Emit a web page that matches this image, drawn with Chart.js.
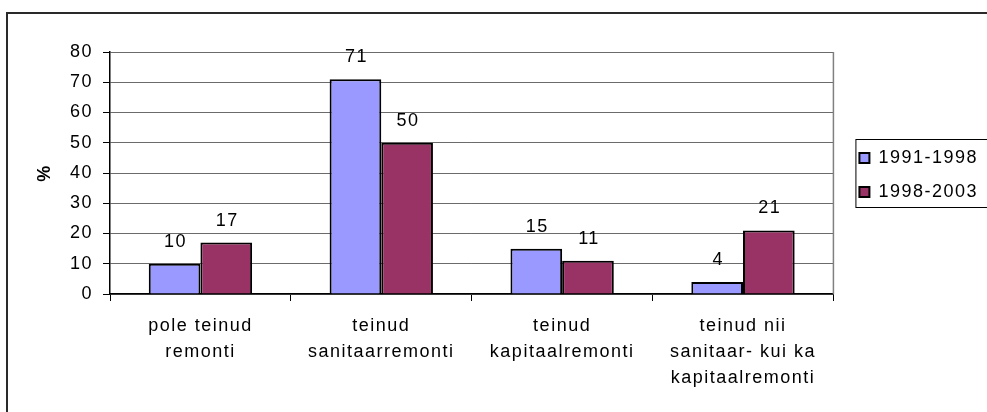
<!DOCTYPE html>
<html>
<head>
<meta charset="utf-8">
<script src="https://cdn.jsdelivr.net/npm/chart.js@4"></script>
<style>
    body { margin: 0; background: #fff; overflow: hidden; width: 987px; height: 412px; }
    #frame { position: absolute; left: 6px; top: 12px; width: 1100px; height: 500px; border: 2px solid #2a2a2a; }
    #wrap { position: absolute; left: 0; top: 0; width: 1000px; height: 420px; }
</style>
</head>
<body>
<div id="frame"></div>
<div id="wrap"><canvas id="remontChart"></canvas></div>
<script>
// Data
const categories = [
    ['pole teinud', 'remonti'],
    ['teinud', 'sanitaarremonti'],
    ['teinud', 'kapitaalremonti'],
    ['teinud nii', 'sanitaar- kui ka', 'kapitaalremonti']
];
const periods = ['1991-1998', '1998-2003'];
const values1991 = [10, 71, 15, 4];
const values1998 = [17, 50, 11, 21];
const yTicks = [0, 10, 20, 30, 40, 50, 60, 70, 80];

const FONT = 'Liberation Sans, Arial, sans-serif';
const SIZE = 18;

// letter spacing gets reset each time the canvas is resized, so set it again
const spacingPlugin = {
    id: 'spacing',
    beforeUpdate(chart) { chart.ctx.letterSpacing = '1.5px'; },
    beforeDraw(chart) { chart.ctx.letterSpacing = '1.5px'; }
};

// values above the bars
const valueLabels = {
    id: 'valueLabels',
    afterDatasetsDraw(chart) {
        const ctx = chart.ctx;
        ctx.save();
        ctx.font = SIZE + 'px ' + FONT;
        ctx.fillStyle = '#000';
        ctx.textAlign = 'center';
        ctx.textBaseline = 'alphabetic';
        chart.data.datasets.forEach((ds, i) => {
            chart.getDatasetMeta(i).data.forEach((bar, j) => {
                ctx.fillText(ds.data[j], bar.x + 1, bar.y - 17);
            });
        });
        ctx.restore();
    }
};

// grey right edge of the plot, legend placement and legend frame
const frameBits = {
    id: 'frameBits',
    afterLayout(chart) {
        const area = chart.chartArea;
        const lg = chart.legend;
        lg.left += 10;
        lg.right += 10;
        lg.top = area.top + 2;
        lg.bottom = area.bottom + 2;
    },
    afterDraw(chart) {
        const ctx = chart.ctx;
        const area = chart.chartArea;
        ctx.save();
        ctx.strokeStyle = '#808080';
        ctx.lineWidth = 1.5;
        ctx.beginPath();
        ctx.moveTo(area.right, area.top);
        ctx.lineTo(area.right, area.bottom);
        ctx.stroke();

        const mid = (area.top + area.bottom) / 2;
        ctx.strokeStyle = '#000';
        ctx.lineWidth = 1;
        ctx.strokeRect(chart.legend.left + 12.5, mid - 33.5, 200, 68);
        ctx.restore();
    }
};

function initChart() {
    const ctx = document.getElementById('remontChart').getContext('2d');

    new Chart(ctx, {
        type: 'bar',
        data: {
            labels: categories,
            datasets: [{
                label: periods[0],
                data: values1991,
                backgroundColor: '#9999FF',
                borderColor: '#000',
                borderWidth: 2,
                categoryPercentage: 2 / 3.5,
                barPercentage: 1
            }, {
                label: periods[1],
                data: values1998,
                backgroundColor: '#993366',
                borderColor: '#000',
                borderWidth: 2,
                categoryPercentage: 2 / 3.5,
                barPercentage: 1
            }]
        },
        options: {
            responsive: true,
            maintainAspectRatio: false,
            animation: false,
            layout: { padding: { left: 0, top: 52, right: 22, bottom: 6 } },
            plugins: {
                tooltip: { enabled: false },
                legend: {
                    position: 'right',
                    labels: {
                        color: '#000',
                        font: { family: FONT, size: SIZE },
                        boxWidth: 10,
                        boxHeight: 10,
                        padding: 16
                    }
                }
            },
            scales: {
                x: {
                    grid: {
                        display: true,
                        drawOnChartArea: false,
                        drawTicks: true,
                        tickLength: 7,
                        tickColor: '#000',
                        offset: true
                    },
                    border: { color: '#000', width: 1.5 },
                    ticks: {
                        color: '#000',
                        maxRotation: 0,
                        autoSkip: false,
                        padding: 12,
                        font: { family: FONT, size: SIZE, lineHeight: 1.45 }
                    },
                    afterFit(scale) { scale.height = 120; }
                },
                y: {
                    min: 0,
                    max: 80,
                    afterBuildTicks(scale) { scale.ticks = yTicks.map(v => ({ value: v })); },
                    grid: {
                        color: '#6b6b6b',
                        lineWidth: 1,
                        drawTicks: true,
                        tickLength: 7,
                        tickColor: '#000'
                    },
                    border: { color: '#000', width: 1.5 },
                    ticks: {
                        color: '#000',
                        padding: 10,
                        font: { family: FONT, size: SIZE }
                    },
                    title: {
                        display: true,
                        text: '%',
                        color: '#000',
                        padding: { top: 34, bottom: 0 },
                        font: { family: FONT, size: SIZE, weight: 'bold' }
                    },
                    afterFit(scale) { scale.width = 110; }
                }
            }
        },
        plugins: [spacingPlugin, valueLabels, frameBits]
    });
}

window.onload = initChart;
</script>
</body>
</html>
